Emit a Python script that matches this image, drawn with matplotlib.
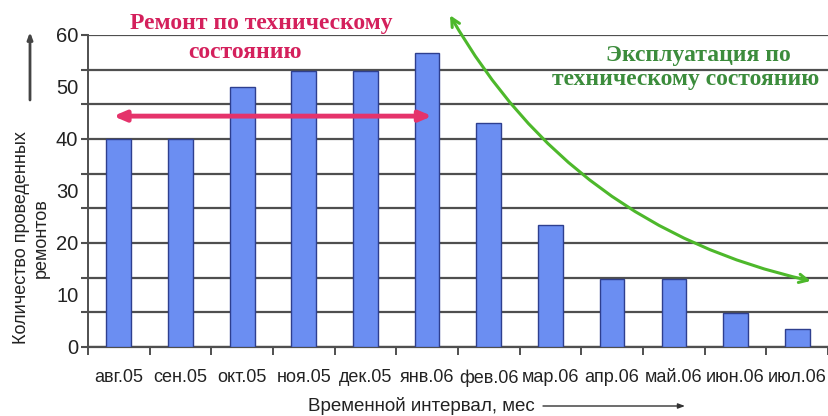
import numpy as np
import matplotlib.pyplot as plt
from matplotlib.ticker import FixedLocator, NullFormatter

months = ['авг.05', 'сен.05', 'окт.05', 'ноя.05', 'дек.05', 'янв.06',
          'фев.06', 'мар.06', 'апр.06', 'май.06', 'июн.06', 'июл.06']
repairs = [40, 40, 50, 53, 53, 56.5, 43, 23.5, 13, 13, 6.5, 3.5]
y_labels = [0, 10, 20, 30, 40, 50, 60]

grid_c = '#4f4f4f'
sans = ['Liberation Sans', 'DejaVu Sans']
serif = ['Liberation Serif', 'DejaVu Serif']

fig = plt.figure(figsize=(8.29, 4.16), dpi=100)
W, H = 829, 416
ax = fig.add_axes([88 / W, 1 - 347 / H, 740 / W, 312 / H])

x = np.arange(len(months))
ax.bar(x, repairs, width=0.4, color='#6B8EF2', edgecolor='#2E3F8F',
       linewidth=1.0, zorder=3)

ax.set_xlim(-0.5, len(months) - 0.5)
ax.set_ylim(0, 60)

# gridlines every 20/3 with small outward ticks, labels every 10
grid_pos = [i * 20 / 3 for i in range(10)]
ax.yaxis.remove_overlapping_locs = False
ax.yaxis.set_major_locator(FixedLocator(grid_pos))
ax.yaxis.set_major_formatter(NullFormatter())
ax.yaxis.set_minor_locator(FixedLocator(y_labels))
ax.set_yticklabels([str(v) for v in y_labels], minor=True)
ax.tick_params(axis='y', which='major', length=5, width=1.5, color=grid_c)
ax.tick_params(axis='y', which='minor', length=0, pad=7, labelsize=14.5)
for t in ax.get_yticklabels(minor=True):
    t.set_family(sans)
    t.set_color('#222222')
ax.grid(axis='y', which='major', color=grid_c, linewidth=1.6, zorder=1)

# x ticks at category boundaries, labels at centers
ax.xaxis.set_major_locator(FixedLocator(np.arange(len(months) + 1) - 0.5))
ax.xaxis.set_major_formatter(NullFormatter())
ax.xaxis.set_minor_locator(FixedLocator(x))
ax.set_xticklabels(months, minor=True)
ax.tick_params(axis='x', which='major', length=6, width=1.4, color=grid_c)
ax.tick_params(axis='x', which='minor', length=0, pad=16, labelsize=13)
for t in ax.get_xticklabels(minor=True):
    t.set_family(sans)
    t.set_color('#222222')

for s in ['top', 'right']:
    ax.spines[s].set_visible(False)
ax.spines['left'].set_color(grid_c)
ax.spines['bottom'].set_color(grid_c)
ax.spines['left'].set_linewidth(1.4)
ax.spines['bottom'].set_linewidth(1.6)

# red double arrow
ax.annotate('', xy=(5.08, 44.4), xytext=(-0.09, 44.4),
            arrowprops=dict(arrowstyle='<|-|>,head_length=0.7,head_width=0.3',
                            color='#E5336B', lw=3.5, shrinkA=0, shrinkB=0),
            zorder=4)
fig.text(261 / W, 1 - 23 / H, 'Ремонт по техническому', family=serif,
         weight='bold', fontsize=17, color='#D4205C', ha='center', va='center')
fig.text(245 / W, 1 - 53 / H, 'состоянию', family=serif,
         weight='bold', fontsize=17, color='#D4205C', ha='center', va='center')

# green curved arrow
ax.annotate('', xy=(11.22, 12.7), xytext=(5.37, 63.8),
            arrowprops=dict(arrowstyle='<->,head_length=0.6,head_width=0.3',
                            color='#4DB82B', lw=2.2,
                            connectionstyle='arc3,rad=0.22',
                            shrinkA=0, shrinkB=0),
            annotation_clip=False, zorder=4)
fig.text(698 / W, 1 - 55 / H, 'Эксплуатация по', family=serif,
         weight='bold', fontsize=17, color='#3C8C3C', ha='center', va='center')
fig.text(686 / W, 1 - 80 / H, 'техническому состоянию', family=serif,
         weight='bold', fontsize=17, color='#3C8C3C', ha='center', va='center')

# axis titles with arrows
fig.text(31 / W, 1 - 238 / H, 'Количество проведенных\nремонтов', family=sans,
         fontsize=13, rotation=90, ha='center', va='center',
         linespacing=1.2, color='#222222')
ax.annotate('', xy=(30 / W, 1 - 32 / H), xytext=(30 / W, 1 - 100 / H),
            xycoords='figure fraction', textcoords='figure fraction',
            annotation_clip=False,
            arrowprops=dict(arrowstyle='-|>,head_length=0.4,head_width=0.15',
                            color='#444444', lw=2, shrinkA=0, shrinkB=0))
fig.text(421 / W, 1 - 406 / H, 'Временной интервал, мес', family=sans,
         fontsize=13.5, ha='center', va='center', color='#222222')
ax.annotate('', xy=(685 / W, 1 - 406 / H), xytext=(543 / W, 1 - 406 / H),
            xycoords='figure fraction', textcoords='figure fraction',
            annotation_clip=False,
            arrowprops=dict(arrowstyle='-|>,head_length=0.4,head_width=0.15',
                            color='#333333', lw=1, shrinkA=0, shrinkB=0))

fig.savefig('out.png', dpi=100)
